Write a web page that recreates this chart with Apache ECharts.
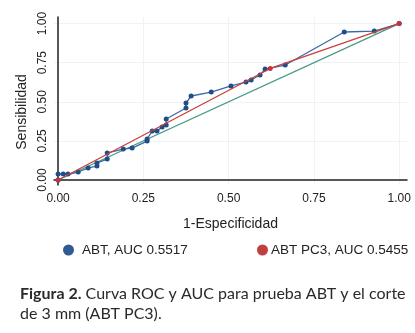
<!DOCTYPE html>
<html><head><meta charset="utf-8">
<script src="https://cdn.jsdelivr.net/npm/echarts@6/dist/echarts.min.js"></script>
<style>html,body{margin:0;padding:0;background:#fff}#c{width:415px;height:333px}</style>
</head><body><div id="c"></div>
<script>
const tickValues = [0, 0.25, 0.5, 0.75, 1];
const tickLabels = ['0.00', '0.25', '0.50', '0.75', '1.00'];
const abtName = 'ABT, AUC 0.5517';
const pc3Name = 'ABT PC3, AUC 0.5455';
const abtX = [0, 0, 0.015, 0.029, 0.059, 0.088, 0.114, 0.114, 0.144, 0.144, 0.191, 0.217, 0.261, 0.261, 0.276, 0.290, 0.305, 0.317, 0.317, 0.375, 0.375, 0.390, 0.449, 0.507, 0.551, 0.566, 0.592, 0.607, 0.666, 0.839, 0.927, 1];
const abtY = [0, 0.038, 0.038, 0.038, 0.051, 0.077, 0.089, 0.109, 0.134, 0.173, 0.198, 0.204, 0.249, 0.262, 0.313, 0.313, 0.339, 0.351, 0.390, 0.460, 0.492, 0.537, 0.562, 0.601, 0.626, 0.639, 0.671, 0.709, 0.735, 0.946, 0.952, 1];
const pc3X = [0, 0.622, 1];
const pc3Y = [0, 0.713, 1];
const refX = [0, 1];
const refY = [0, 1];
const xName = '1-Especificidad';
const yName = 'Sensibilidad';

const zip = (a, b) => a.map((v, i) => [v, b[i]]);
const FONT = 'Liberation Sans';
const TXT = '#222';
const chart = echarts.init(document.getElementById('c'), null, {renderer: 'canvas'});
chart.setOption({
  backgroundColor: '#fff',
  animation: false,
  textStyle: {fontFamily: FONT},
  grid: {left: 54, right: 8, top: 17, bottom: 148},
  legend: [{
    left: 58, top: 238, icon: 'circle', itemWidth: 11, itemHeight: 11, itemGap: 0,
    data: [{name: abtName, itemStyle: {color: '#2e5c92'}}],
    textStyle: {fontFamily: FONT, fontSize: 13.5, color: TXT, padding: [0, 0, 0, 3]}
  }, {
    left: 252, top: 238, icon: 'circle', itemWidth: 11, itemHeight: 11, itemGap: 0,
    data: [{name: pc3Name, itemStyle: {color: '#c0403f'}}],
    textStyle: {fontFamily: FONT, fontSize: 13.5, color: TXT, padding: [0, 0, 0, -2]}
  }],
  xAxis: {
    type: 'value', min: -0.012, max: 1.023,
    name: xName, nameLocation: 'middle', nameGap: 32,
    nameTextStyle: {fontFamily: FONT, fontSize: 14, color: TXT},
    axisLine: {show: true, lineStyle: {color: '#222', width: 1.5}},
    axisTick: {show: false, customValues: tickValues},
    axisLabel: {customValues: tickValues, formatter: v => tickLabels[tickValues.indexOf(v)] ?? '', fontFamily: FONT, fontSize: 12, color: TXT, margin: 8},
    splitLine: {show: true, customValues: tickValues, lineStyle: {color: '#eef3f7', width: 1}}
  },
  yAxis: {
    type: 'value', min: -0.032, max: 1.042,
    name: yName, nameLocation: 'middle', nameGap: 22, nameRotate: 90,
    nameTextStyle: {fontFamily: FONT, fontSize: 14, color: TXT, padding: [0, 22, 0, 0]},
    axisLine: {show: true, lineStyle: {color: '#222', width: 1.5}},
    axisTick: {show: false, customValues: tickValues},
    axisLabel: {customValues: tickValues, rotate: 90, formatter: v => tickLabels[tickValues.indexOf(v)] ?? '', fontFamily: FONT, fontSize: 12, color: TXT, margin: 5},
    splitLine: {show: true, customValues: tickValues, lineStyle: {color: '#eef3f7', width: 1}}
  },
  series: [
    {type: 'line', name: 'ref', data: zip(refX, refY), showSymbol: false, symbol: 'none', lineStyle: {color: '#4a9a88', width: 1.3}, z: 1},
    {type: 'line', name: abtName, data: zip(abtX, abtY), symbol: 'circle', symbolSize: 5, lineStyle: {color: '#3c68a6', width: 1.3}, itemStyle: {color: '#1f4d86'}, z: 2},
    {type: 'line', name: pc3Name, data: zip(pc3X, pc3Y), symbol: 'circle', symbolSize: 5, lineStyle: {color: '#c8403c', width: 1.3}, itemStyle: {color: '#c0363a'}, z: 3}
  ],
  graphic: [{
    type: 'text', left: 20, top: 284,
    style: {
      text: '{b|Figura 2.} Curva ROC y AUC para prueba ABT y el corte\nde 3 mm (ABT PC3).',
      font: '16px Lato', fill: '#2a2a2a', lineHeight: 20,
      rich: {b: {fontWeight: 'bold', fontFamily: 'Lato', fontSize: 16, fill: '#2a2a2a'}}
    }
  }]
});
</script></body></html>
